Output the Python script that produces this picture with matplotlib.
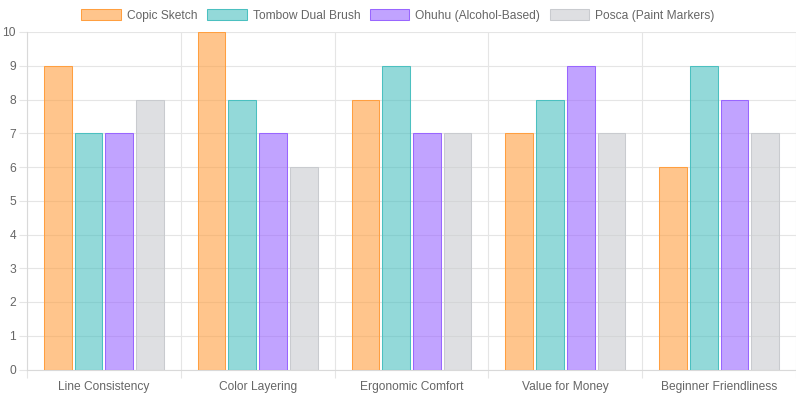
import numpy as np
import matplotlib
matplotlib.use('Agg')
import matplotlib.pyplot as plt
from matplotlib.patches import Patch

plt.rcParams['font.family'] = ['Liberation Sans', 'DejaVu Sans']

# data
categories = ['Line Consistency', 'Color Layering', 'Ergonomic Comfort',
              'Value for Money', 'Beginner Friendliness']
series_names = ['Copic Sketch', 'Tombow Dual Brush', 'Ohuhu (Alcohol-Based)',
                'Posca (Paint Markers)']
copic = [9, 10, 8, 7, 6]
tombow = [7, 8, 9, 8, 9]
ohuhu = [7, 7, 7, 9, 8]
posca = [8, 6, 7, 7, 7]
y_ticks = list(range(0, 11))

fills = [(255/255, 159/255, 64/255, 0.6), (75/255, 192/255, 192/255, 0.6),
         (153/255, 102/255, 255/255, 0.6), (201/255, 203/255, 207/255, 0.6)]
edges = ['#ff9f40', '#4bc0c0', '#9966ff', '#c9cbcf']
grid_c = '#e5e5e5'
txt_c = '#666666'
fs = 8.64

fig = plt.figure(figsize=(7.96, 3.98), dpi=100)
ax = fig.add_axes([27/796, 1 - 369.5/398, 1 - 27/796, (369.5 - 32)/398])

x = np.arange(len(categories))
slot = 0.8 / 4
bw = slot * 0.9
for i, vals in enumerate([copic, tombow, ohuhu, posca]):
    offs = -0.4 + slot * (i + 0.5)
    ax.bar(x + offs, vals, width=bw, color=fills[i], edgecolor=edges[i],
           linewidth=0.75, zorder=3)

ax.set_xlim(-0.5, len(categories) - 0.5)
ax.set_ylim(0, 10)
ax.set_yticks(y_ticks)
ax.set_xticks(x)
ax.set_xticklabels(categories)
ax.set_xticks(np.arange(len(categories) + 1) - 0.5, minor=True)

ax.tick_params(axis='x', which='major', length=0, pad=8, labelsize=fs, labelcolor=txt_c)
ax.tick_params(axis='x', which='minor', length=6, width=0.8, color=grid_c)
ax.tick_params(axis='y', length=6, width=0.8, color=grid_c, pad=2,
               labelsize=fs, labelcolor=txt_c)

ax.grid(True, axis='y', color=grid_c, linewidth=0.8, zorder=0)
ax.grid(True, axis='x', which='minor', color=grid_c, linewidth=0.8, zorder=0)
ax.grid(False, axis='x', which='major')
for s in ['top', 'right']:
    ax.spines[s].set_visible(False)
for s in ['left', 'bottom']:
    ax.spines[s].set_color('#d9d9d9')
    ax.spines[s].set_linewidth(0.8)

handles = [Patch(facecolor=fills[i], edgecolor=edges[i], linewidth=0.75)
           for i in range(4)]
fig.legend(handles, series_names, loc='center', bbox_to_anchor=(0.5, 1 - 15.5/398),
           ncol=4, frameon=False, fontsize=fs, labelcolor=txt_c,
           handlelength=3.3, handleheight=1.0, handletextpad=0.5,
           columnspacing=0.8, borderaxespad=0, borderpad=0)

fig.savefig('out.png', dpi=100)
